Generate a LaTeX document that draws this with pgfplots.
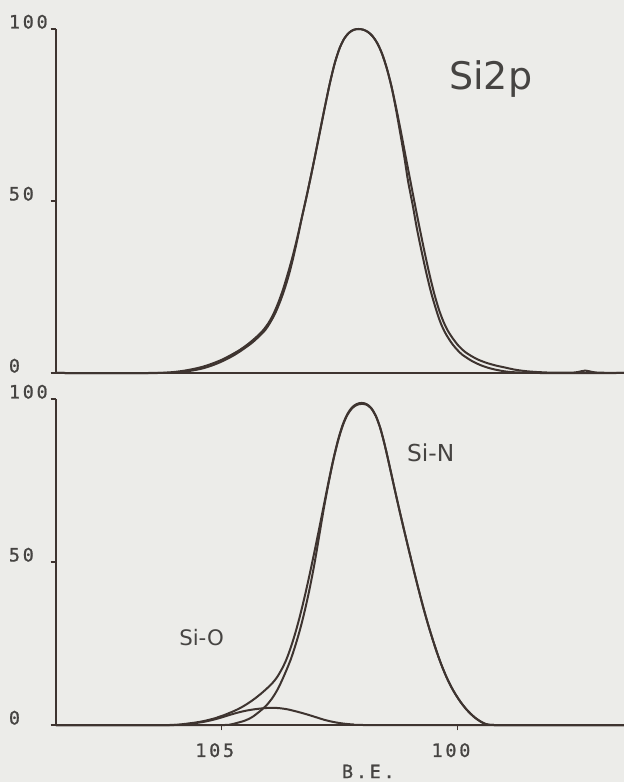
\documentclass[border=0pt]{standalone}
\usepackage{pgfplots}
\pgfplotsset{compat=1.18}
\usepackage{fontspec}
\newfontfamily\plotfont[LetterSpace=15, FakeBold=1]{DejaVu Sans Mono}
\newfontfamily\labelfont{DejaVu Sans}
\definecolor{paper}{RGB}{236,236,233}
\definecolor{ink}{RGB}{62,52,48}
\definecolor{txt}{RGB}{70,68,66}

% Si 2p spectra: measured and fitted curves (top), component fit (bottom)
\pgfplotstableread{
be    a
108.5 0
106.5 0
106.2 0.1
106.0 0.3
105.8 0.65
105.6 1.15
105.4 1.8
105.2 2.7
105.0 3.8
104.8 5.2
104.6 6.8
104.4 8.8
104.2 11.2
104.1 12.7
104.0 14.6
103.9 17.1
103.8 20.3
103.7 24.1
103.6 28.6
103.5 33.5
103.4 39.0
103.3 45.0
103.2 51.15
103.1 57.6
103.0 64.3
102.9 71.15
102.8 78.0
102.7 84.5
102.6 90.1
102.5 94.35
102.4 97.2
102.3 98.9
102.2 99.75
102.1 100
102.0 99.8
101.9 99.15
101.8 97.9
101.7 95.85
101.6 92.8
101.5 88.6
101.4 83.25
101.3 77.0
101.2 70.1
101.1 62.9
101.0 55.8
100.9 48.7
100.8 41.8
100.7 35.15
100.6 28.9
100.5 23.3
100.4 18.6
100.3 14.9
100.2 12.1
100.1 10.0
100.0 8.2
99.9 6.8
99.8 5.7
99.6 4.1
99.4 3.0
99.2 2.2
99.0 1.6
98.8 1.0
98.6 0.6
98.4 0.35
98.2 0.2
98.0 0.1
97.6 0.1
97.45 0.3
97.3 0.7
97.15 0.3
97.0 0.1
96.48 0
}\measured

\pgfplotstableread{
be    b
108.5 0
106.3 0
106.05 0.1
105.85 0.3
105.65 0.65
105.45 1.15
105.28 1.8
105.1 2.7
104.92 3.8
104.73 5.2
104.55 6.8
104.35 8.8
104.16 11.2
104.06 12.7
103.97 14.6
103.87 17.1
103.77 20.3
103.67 24.1
103.57 28.6
103.48 33.5
103.39 39.0
103.3 45.0
103.2 51.15
103.1 57.6
103.0 64.3
102.9 71.15
102.8 78.0
102.7 84.5
102.6 90.1
102.5 94.35
102.4 97.2
102.3 98.9
102.2 99.75
102.1 100
102.0 99.8
101.9 99.15
101.8 97.9
101.7 95.85
101.6 92.8
101.5 88.6
101.4 83.25
101.31 77.0
101.22 70.1
101.13 62.9
101.05 55.8
100.95 48.7
100.86 41.8
100.76 35.15
100.66 28.9
100.56 23.3
100.46 18.6
100.37 14.9
100.28 12.1
100.19 10.0
100.1 8.2
100.0 6.6
99.9 5.3
99.7 3.5
99.5 2.2
99.3 1.3
99.1 0.7
98.9 0.3
98.6 0.1
98.3 0
96.48 0
}\fitted

\pgfplotstableread{
be    e
108.5 0
106.1 0
105.93 0.1
105.73 0.4
105.53 0.8
105.43 1.05
105.33 1.35
105.23 1.7
105.13 2.1
105.03 2.6
104.93 3.1
104.83 3.7
104.73 4.3
104.63 5.0
104.53 5.8
104.43 6.7
104.33 7.7
104.23 8.8
104.13 10.0
104.03 11.3
103.93 12.7
103.83 14.5
103.73 16.9
103.63 19.9
103.53 23.85
103.43 28.5
103.33 33.85
103.23 39.85
103.13 46.35
103.03 53.2
102.93 60.3
102.83 67.55
102.73 74.75
102.63 81.55
102.53 87.5
102.43 92.2
102.33 95.5
102.23 97.5
102.13 98.5
102.03 98.8
101.93 98.45
101.83 97.25
101.73 94.8
101.63 90.7
101.53 85.1
101.43 78.7
101.33 72.15
101.23 65.75
101.13 59.55
101.03 53.5
100.93 47.55
100.83 41.75
100.73 36.2
100.63 31.05
100.53 26.3
100.43 21.9
100.33 17.95
100.23 14.5
100.13 11.55
100.03 9.05
99.93 6.9
99.83 5.05
99.73 3.5
99.63 2.22
99.53 1.2
99.43 0.42
99.33 0.07
99.23 0
96.48 0
}\envelope

\pgfplotstableread{
be    n
108.5 0
104.93 0
104.83 0.1
104.73 0.4
104.63 0.8
104.53 1.2
104.43 1.8
104.33 2.6
104.23 3.7
104.13 4.9
104.03 6.3
103.93 8.1
103.83 10.4
103.73 13.3
103.63 16.6
103.53 20.2
103.43 24.6
103.33 29.6
103.23 35.4
103.13 42.0
103.03 49.5
102.93 58.0
102.83 66.6
102.73 74.3
102.63 81.3
102.53 87.2
102.43 91.9
102.33 95.2
102.23 97.2
102.13 98.2
102.03 98.5
101.93 98.25
101.83 97.1
101.73 94.7
101.63 90.7
101.53 85.1
101.43 78.7
101.33 72.15
101.23 65.75
101.13 59.55
101.03 53.5
100.93 47.55
100.83 41.75
100.73 36.2
100.63 31.05
100.53 26.3
100.43 21.9
100.33 17.95
100.23 14.5
100.13 11.55
100.03 9.05
99.93 6.9
99.83 5.05
99.73 3.5
99.63 2.22
99.53 1.2
99.43 0.42
99.33 0.07
99.23 0
96.48 0
}\sinitride

\pgfplotstableread{
be    o
108.5 0
106.0 0
105.8 0.2
105.6 0.5
105.4 0.9
105.2 1.5
105.0 2.3
104.8 3.2
104.6 4.0
104.4 4.6
104.2 5.0
104.0 5.25
103.8 5.2
103.6 4.8
103.4 4.1
103.2 3.3
103.0 2.4
102.8 1.5
102.6 0.85
102.4 0.4
102.2 0.15
102.0 0
96.48 0
}\sioxide

\pgfplotsset{
  trace/.style={ink, line width=1.5pt, smooth, tension=0.5, mark=none, line join=round},
  spec/.style={
    scale only axis, width=426pt,
    xmin=96.48, xmax=108.5, x dir=reverse,
    ymin=0, ymax=100,
    axis x line=bottom, axis y line=left,
    axis line style={-, ink, line width=1.5pt},
    x axis line style={-}, y axis line style={-},
    ytick={0,50,100},
    xtick pos=left, ytick pos=left,
    tick style={draw=ink, line width=1.2pt},
    major tick length=4pt,
    tick align=outside,
    /pgf/number format/assume math mode=true,
    yticklabel style={font=\plotfont\fontsize{13.8}{14}\selectfont, text=txt,
      anchor=south west, inner sep=0pt, xshift=-31.5pt, yshift=0pt},
    xticklabel style={font=\plotfont\fontsize{13.8}{14}\selectfont, text=txt,
      anchor=north, inner sep=0pt, yshift=-9.5pt, xshift=-5pt},
    clip=false,
  }
}

\begin{document}
\begin{tikzpicture}
\path[use as bounding box, fill=paper] (0,0) rectangle (468pt,586.5pt);

% upper panel
\begin{axis}[spec, at={(42pt,306.75pt)}, anchor=south west, height=258pt, xtick=\empty]
  \addplot[trace] table[x=be, y=a] {\measured};
  \addplot[trace] table[x=be, y=b] {\fitted};
  \node[anchor=base, font=\labelfont\fontsize{28.5}{30}\selectfont, text=txt]
    at (axis cs:99.3,82.3) {Si2p};
\end{axis}

% lower panel
\begin{axis}[spec, at={(42pt,42.75pt)}, anchor=south west, height=244.5pt, xtick={100,105}]
  \addplot[trace] table[x=be, y=e] {\envelope};
  \addplot[trace] table[x=be, y=n] {\sinitride};
  \addplot[trace] table[x=be, y=o] {\sioxide};
  \node[anchor=base, font=\labelfont\fontsize{17.5}{18}\selectfont, text=txt]
    at (axis cs:100.57,80.7) {Si-N};
  \node[anchor=base, font=\labelfont\fontsize{16}{17}\selectfont, text=txt]
    at (axis cs:105.42,24.5) {Si-O};
  \node[anchor=base, font=\plotfont\fontsize{13.8}{14}\selectfont, text=txt]
    at (axis cs:101.89,-16.3) {B.E.};
\end{axis}
\end{tikzpicture}
\end{document}
